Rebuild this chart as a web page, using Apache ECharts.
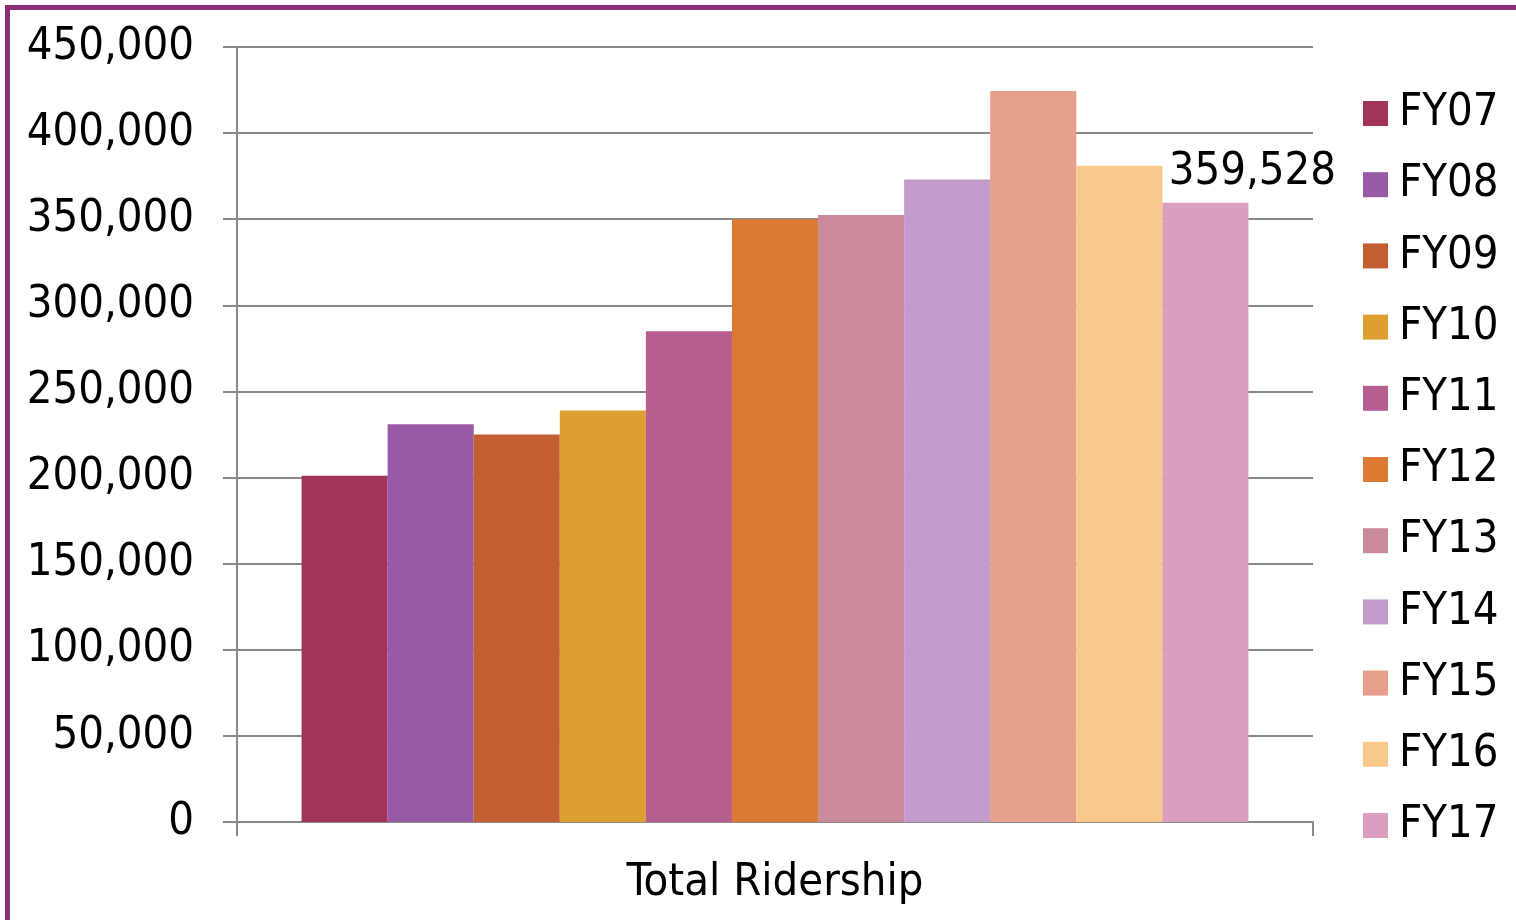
<!DOCTYPE html>
<html>
<head>
<meta charset="utf-8">
<script src="https://cdn.jsdelivr.net/npm/echarts@6/dist/echarts.min.js"></script>
<style>
html,body{margin:0;padding:0;background:#fff;}
#chart{width:1516px;height:920px;}
</style>
</head>
<body>
<div id="chart"></div>
<script>
const categories = ['Total Ridership'];
const seriesNames = ['FY07','FY08','FY09','FY10','FY11','FY12','FY13','FY14','FY15','FY16','FY17'];
const seriesValues = [201000, 231000, 225000, 239000, 285000, 350000, 352500, 373000, 424500, 381000, 359528];
const colors = ['#A23459','#9859A5','#C35E30','#DDA030','#B65E90','#DC7A33','#CB8A9A','#C39CCC','#E59F8A','#F9C98B','#DA9EBE'];
const labeledSeries = 'FY17';
const yTicks = {min: 0, max: 450000, interval: 50000};

const FONT = '"DejaVu Sans Condensed", "Liberation Sans Narrow", "DejaVu Sans", sans-serif';
const fmt = v => String(v).replace(/\B(?=(\d{3})+(?!\d))/g, ',');

const chart = echarts.init(document.getElementById('chart'), null, {renderer: 'canvas'});
const series = seriesNames.map((name, i) => ({
  name: name,
  type: 'bar',
  data: [seriesValues[i]],
  barGap: '0%',
  barCategoryGap: '12%',
  itemStyle: {color: colors[i]},
  label: name === labeledSeries ? {
    show: true, position: 'top', distance: 8, offset: [47, 0],
    formatter: p => fmt(p.value),
    fontFamily: FONT, fontSize: 45, color: '#000'
  } : {show: false},
  emphasis: {disabled: true},
  animation: false
}));

chart.setOption({
  animation: false,
  textStyle: {fontFamily: FONT},
  graphic: [{
    type: 'rect', shape: {x: 7.5, y: 7.5, width: 1700, height: 1700},
    style: {fill: null, stroke: '#8A2F78', lineWidth: 5}, silent: true
  }],
  grid: {left: 237, right: 203, top: 47, bottom: 98, containLabel: false},
  legend: {
    orient: 'vertical', left: 1363, top: 91, padding: 0, itemWidth: 25, itemHeight: 25,
    itemGap: 26.2, icon: 'rect',
    textStyle: {fontFamily: FONT, fontSize: 45, color: '#000', lineHeight: 45, padding: [0,0,0,6]},
    data: seriesNames
  },
  xAxis: {
    type: 'category', data: categories,
    axisLine: {lineStyle: {color: '#898989', width: 2}},
    axisTick: {show: true, length: 14, lineStyle: {color: '#898989', width: 2}},
    axisLabel: {fontFamily: FONT, fontSize: 45, color: '#000', margin: 39}
  },
  yAxis: {
    type: 'value', min: yTicks.min, max: yTicks.max, interval: yTicks.interval,
    axisLine: {show: true, lineStyle: {color: '#898989', width: 2}},
    axisTick: {show: true, length: 14, lineStyle: {color: '#898989', width: 2}},
    splitLine: {show: true, lineStyle: {color: '#898989', width: 2}},
    axisLabel: {fontFamily: FONT, fontSize: 45, color: '#000', margin: 43, formatter: v => fmt(v)}
  },
  series: series
});
</script>
</body>
</html>
